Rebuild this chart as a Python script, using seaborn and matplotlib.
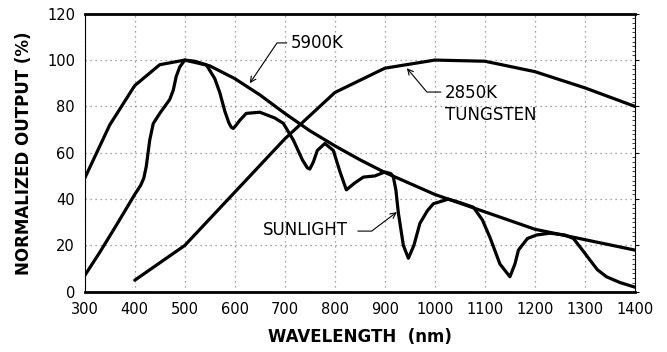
import numpy as np
import pandas as pd
import matplotlib
matplotlib.use('Agg')
import matplotlib.pyplot as plt
import seaborn as sns
from matplotlib.ticker import MultipleLocator

# Данные
wl_5900 = [300, 350, 400, 450, 500, 550, 600, 650, 700, 750, 800, 850, 900,
           1000, 1100, 1200, 1300, 1400]
out_5900 = [49, 72, 89, 98, 100, 97.5, 92, 85, 77, 69.5, 63, 57, 51.5,
            42, 34.5, 27, 22.5, 18]

wl_tung = [400, 500, 600, 700, 800, 900, 1000, 1100, 1200, 1300, 1400]
out_tung = [5, 20, 43, 66, 86, 96.5, 100, 99.5, 95, 88, 80]

wl_sun = [300, 330, 364, 400, 412, 418, 423, 430, 437, 450, 470, 477, 483, 490,
          500, 520, 543, 560, 570, 580, 588, 593, 597, 603, 610, 623, 650, 680,
          697, 717, 735, 745, 750, 757, 765, 780, 797, 810, 823, 840, 857, 880,
          900, 912, 917, 922, 927, 937, 947, 958, 970, 985, 997, 1027, 1050, 1077,
          1095, 1110, 1130, 1150, 1160, 1167, 1185, 1203, 1230, 1260, 1277, 1295,
          1310, 1325, 1343, 1370, 1400]
out_sun = [7, 17, 29, 42, 46, 49, 54, 65.5, 72.6, 77, 83, 87, 93, 97,
           100, 99.5, 98, 92, 86, 78, 73, 71, 70.5, 72, 74, 77, 77.5, 75,
           72.7, 65.5, 57, 53.5, 53, 56, 61, 64, 61, 52, 44, 47, 49.5, 50,
           51.7, 51, 49.5, 44, 34, 20, 14.5, 20, 29.5, 35, 38, 40, 38.5, 36.5,
           31, 23.5, 12, 6.5, 12, 18, 23, 24.5, 25.3, 24.5, 23, 18,
           13.7, 9.5, 6.5, 4, 2]

x_ticks = list(range(300, 1401, 100))
y_ticks = list(range(0, 121, 20))

sns.set_style('white')
plt.rcParams['font.family'] = ['DejaVu Sans']
plt.rcParams['text.color'] = 'black'
plt.rcParams['axes.labelcolor'] = 'black'

fig = plt.figure(figsize=(6.67, 3.52), dpi=100)
ax = fig.add_axes([0.127, 0.171, 0.825, 0.790])

for wl, out in [(wl_5900, out_5900), (wl_tung, out_tung), (wl_sun, out_sun)]:
    df = pd.DataFrame({'wl': wl, 'out': out})
    sns.lineplot(data=df, x='wl', y='out', ax=ax, color='black', lw=2.3,
                 estimator=None, sort=False)

ax.set_xlim(300, 1400)
ax.set_ylim(0, 120)
ax.set_xticks(x_ticks)
ax.set_yticks(y_ticks)
ax.yaxis.set_minor_locator(MultipleLocator(2))
ax.tick_params(axis='both', labelsize=10.5, colors='black', length=3, width=0.8, pad=4)
ax.tick_params(axis='y', which='minor', length=2, width=0.6, right=True, direction='in')
ax.tick_params(axis='y', which='major', right=True)
ax.grid(True, which='major', color='#888888', linestyle=(0, (1, 3)), lw=0.9)

for side in ['top', 'bottom']:
    ax.spines[side].set_linewidth(2.0)
    ax.spines[side].set_color('black')
for side in ['left', 'right']:
    ax.spines[side].set_linewidth(0.8)
    ax.spines[side].set_color('black')

ax.set_xlabel('WAVELENGTH  (nm)', fontsize=12, fontweight='bold', labelpad=8, color='black')
ax.set_ylabel('NORMALIZED OUTPUT (%)', fontsize=12, fontweight='bold', labelpad=10, color='black')

# Подписи со стрелками
arrow = dict(arrowstyle='->', color='black', lw=0.8, shrinkA=0, shrinkB=0)
ax.text(712, 107.4, '5900K', fontsize=12, va='center', ha='left', color='black')
ax.annotate('', xy=(630, 90), xytext=(704, 107.4),
            arrowprops=dict(arrow, connectionstyle='angle,angleA=0,angleB=56,rad=0'))

ax.text(1020, 81, '2850K\nTUNGSTEN', fontsize=12, va='center', ha='left',
        linespacing=1.25, color='black')
ax.annotate('', xy=(944, 96.5), xytext=(1012, 86.2),
            arrowprops=dict(arrow, connectionstyle='angle,angleA=0,angleB=130,rad=0'))

ax.text(656, 26.6, 'SUNLIGHT', fontsize=12, va='center', ha='left', color='black')
ax.annotate('', xy=(924, 34.4), xytext=(846, 26.2),
            arrowprops=dict(arrow, connectionstyle='angle,angleA=0,angleB=37,rad=0'))

fig.savefig('out.png', dpi=100)
